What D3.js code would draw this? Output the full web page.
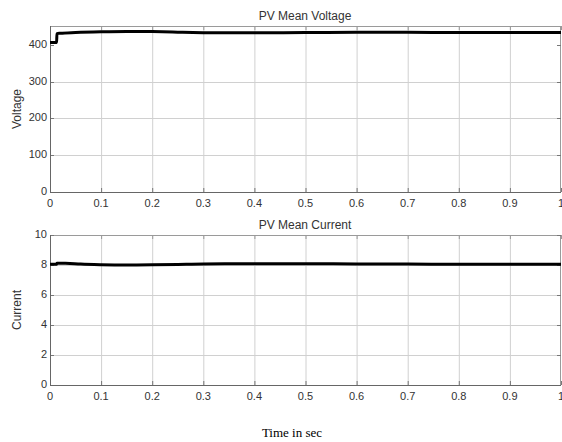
<!DOCTYPE html>
<html><head><meta charset="utf-8">
<script src="https://cdn.jsdelivr.net/npm/d3@7"></script>
<style>body{margin:0;background:#fff}svg{display:block}</style>
</head><body>
<svg id="c" width="562" height="442"></svg>
<script>
const xTicks = [0,0.1,0.2,0.3,0.4,0.5,0.6,0.7,0.8,0.9,1];
const xTickLabels = ["0","0.1","0.2","0.3","0.4","0.5","0.6","0.7","0.8","0.9","1"];
const voltageTicks = [0,100,200,300,400];
const currentTicks = [0,2,4,6,8,10];
const voltageTime = [0,0.013,0.0135,0.02,0.05,0.1,0.15,0.2,0.25,0.3,0.35,0.4,0.5,0.6,0.7,0.8,0.9,1.0];
const voltageValues = [407,407,431,432,434,436,437,436.5,435,433.5,433,433,434,434.5,434.5,434,434,434];
const currentTime = [0,0.013,0.0135,0.03,0.06,0.1,0.15,0.2,0.25,0.3,0.4,0.5,0.6,0.7,0.8,0.9,1.0];
const currentValues = [8.05,8.05,8.12,8.12,8.06,8.02,8.0,8.01,8.04,8.07,8.08,8.08,8.07,8.06,8.05,8.05,8.05];

const svg = d3.select("#c");
const font = "Liberation Sans, Arial, Helvetica, sans-serif";

function panel(cfg){
  const x = d3.scaleLinear().domain([0,1]).range([50,561]);
  const y = d3.scaleLinear().domain(cfg.ydom).range([cfg.bottom,cfg.top]);
  const g = svg.append("g");
  // grid
  g.selectAll(".gx").data(xTicks.slice(1,-1)).enter().append("line")
    .attr("x1",d=>x(d)+0.5).attr("x2",d=>x(d)+0.5).attr("y1",cfg.top).attr("y2",cfg.bottom)
    .attr("stroke","#d0d0d0").attr("stroke-width",1);
  g.selectAll(".gy").data(cfg.yticks.slice(1,-1).concat(cfg.extraGrid||[])).enter().append("line")
    .attr("x1",50).attr("x2",561).attr("y1",d=>Math.round(y(d))+0.5).attr("y2",d=>Math.round(y(d))+0.5)
    .attr("stroke","#d0d0d0").attr("stroke-width",1);
  // frame
  g.append("rect").attr("x",50.5).attr("y",cfg.top+0.5).attr("width",510).attr("height",cfg.bottom-cfg.top)
    .attr("fill","none").attr("stroke","#9a9a9a").attr("stroke-width",1);
  // inner ticks
  const tl=4;
  xTicks.forEach(t=>{
    g.append("line").attr("x1",x(t)+0.5).attr("x2",x(t)+0.5).attr("y1",cfg.bottom).attr("y2",cfg.bottom-tl).attr("stroke","#777");
    g.append("line").attr("x1",x(t)+0.5).attr("x2",x(t)+0.5).attr("y1",cfg.top).attr("y2",cfg.top+tl).attr("stroke","#999");
  });
  cfg.yticks.forEach(t=>{
    g.append("line").attr("x1",50).attr("x2",50+tl).attr("y1",Math.round(y(t))+0.5).attr("y2",Math.round(y(t))+0.5).attr("stroke","#777");
    g.append("line").attr("x1",561).attr("x2",561-tl).attr("y1",Math.round(y(t))+0.5).attr("y2",Math.round(y(t))+0.5).attr("stroke","#777");
  });
  // axis lines
  g.append("line").attr("x1",50.5).attr("x2",50.5).attr("y1",cfg.top).attr("y2",cfg.bottom+0.5).attr("stroke","#666");
  g.append("line").attr("x1",50).attr("x2",561).attr("y1",cfg.bottom+0.5).attr("y2",cfg.bottom+0.5).attr("stroke","#666");
  // labels
  g.selectAll(".xl").data(xTicks).enter().append("text")
    .attr("x",d=>x(d)).attr("y",cfg.bottom+15).attr("text-anchor","middle")
    .attr("font-family",font).attr("font-size",11).attr("fill","#333")
    .text((d,i)=>xTickLabels[i]);
  g.selectAll(".yl").data(cfg.yticks).enter().append("text")
    .attr("x",47).attr("y",d=>y(d)+3).attr("text-anchor","end")
    .attr("font-family",font).attr("font-size",11).attr("fill","#333")
    .text(d=>d);
  g.append("text").attr("x",305).attr("y",cfg.top-6).attr("text-anchor","middle")
    .attr("font-family",font).attr("font-size",12).attr("fill","#333").text(cfg.title);
  g.append("text").attr("transform",`translate(21,${(cfg.top+cfg.bottom)/2}) rotate(-90)`)
    .attr("text-anchor","middle").attr("font-family",font).attr("font-size",12).attr("fill","#333").text(cfg.ylabel);
  // line
  const line = d3.line().x((d,i)=>x(cfg.t[i])).y(d=>y(d)).curve(d3.curveMonotoneX);
  g.append("path").datum(cfg.v).attr("d",line).attr("fill","none").attr("stroke","#000").attr("stroke-width",3);
}

panel({top:26,bottom:192,ydom:[0,451.7],yticks:voltageTicks,extraGrid:[],title:"PV Mean Voltage",ylabel:"Voltage",t:voltageTime,v:voltageValues});
panel({top:235,bottom:385,ydom:[0,10],yticks:currentTicks,title:"PV Mean Current",ylabel:"Current",t:currentTime,v:currentValues});

svg.append("text").attr("x",292).attr("y",437).attr("text-anchor","middle")
  .attr("font-family","Liberation Serif, Times New Roman, serif").attr("font-size",13).attr("fill","#000").text("Time in sec");
</script>
</body></html>
